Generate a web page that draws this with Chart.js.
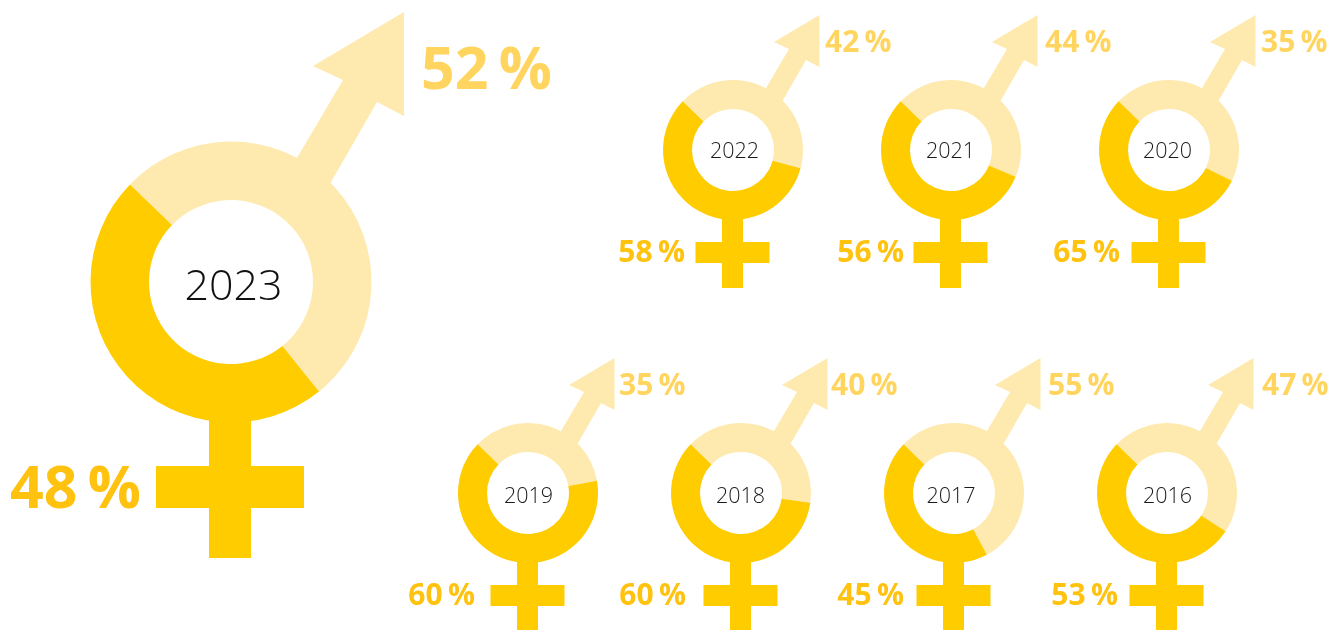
<!DOCTYPE html>
<html><head><meta charset="utf-8">
<script src="https://cdn.jsdelivr.net/npm/chart.js@4"></script>
<style>
html,body{margin:0;padding:0;background:#fff;width:1338px;height:630px;overflow:hidden;font-family:"Open Sans",sans-serif}
canvas{position:absolute}
.t{position:absolute;white-space:nowrap;font-weight:700}
.y{position:absolute;font-weight:300;text-align:center;transform:translate(-50%,-50%)}
</style></head><body>
<script>
// Data
const years       = ["2023","2022","2021","2020","2019","2018","2017","2016"];
const maleArc     = [52,42,44,45,35,40,55,47];
const femaleArc   = [48,58,56,55,65,60,45,53];
const maleLabel   = ["52 %","42 %","44 %","35 %","35 %","40 %","55 %","47 %"];
const femaleLabel = ["48 %","58 %","56 %","65 %","60 %","60 %","45 %","53 %"];

// Layout
const centersX = [231,733,951,1169,528,741,954,1167];
const centersY = [282,150,150,150,493,493,493,493];
const maleLeft = [421,825,1045,1261,619,831,1048,1262];
const femaleRight = [141,685,904,1120,475,686,904,1118];
const yearX    = [233.5,734.5,950.5,1167.5,528.5,740.5,951,1167.5];
const LIGHT="#FEE9AE", DARK="#FFCC00", LIGHT_T="#FFD55F", DARK_T="#FFC20E";

const symbolPlugin={id:"symbols",beforeDatasetsDraw(chart){
  const arc=chart.getDatasetMeta(0).data[0], c=chart.ctx, k=arc.outerRadius>100?2:1;
  const P=(pts,col)=>{c.beginPath();pts.forEach((p,i)=>{const x=arc.x+p[0]*k,y=arc.y+p[1]*k;i?c.lineTo(x,y):c.moveTo(x,y)});c.closePath();c.fillStyle=col;c.fill()};
  P([[33,-62],[56,-101],[41,-108],[86.5,-135],[86.5,-83],[73,-90],[50,-50],[30,-30]],LIGHT);
  P([[-11,60],[10,60],[10,92],[36.5,92],[36.5,113],[10,113],[10,138],[-11,138],[-11,113],[-37.5,113],[-37.5,92],[-11,92]],DARK);
}};

years.forEach((yr,i)=>{
  const big=i===0, R=big?140.5:70, ri=big?82:41, half=big?290:145;
  const cv=document.createElement("canvas");
  cv.width=cv.height=half*2;
  cv.style.left=(centersX[i]-half)+"px"; cv.style.top=(centersY[i]-half)+"px";
  document.body.appendChild(cv);
  new Chart(cv,{type:"doughnut",
    data:{labels:["Men","Women"],datasets:[{data:[maleArc[i],femaleArc[i]],backgroundColor:[LIGHT,DARK],borderWidth:0}]},
    options:{responsive:false,animation:false,rotation:-46,radius:R,cutout:(ri/R*100)+"%",layout:{padding:0},
      plugins:{legend:{display:false},tooltip:{enabled:false}}},
    plugins:[symbolPlugin]});
  const fs=big?59:30, cy=centersY[i], ws=big?-5:-2.5;
  const m=document.createElement("div");m.className="t";m.textContent=maleLabel[i];
  m.style.cssText=`left:${maleLeft[i]}px;top:${cy+(big?-216:-109)-fs/2}px;font-size:${fs}px;line-height:${fs}px;color:${LIGHT_T};word-spacing:${ws}px`;
  document.body.appendChild(m);
  const f=document.createElement("div");f.className="t";f.textContent=femaleLabel[i];
  f.style.cssText=`right:${1338-femaleRight[i]}px;top:${cy+(big?203:101)-fs/2}px;font-size:${fs}px;line-height:${fs}px;color:${DARK_T};word-spacing:${ws}px`;
  document.body.appendChild(f);
  const y=document.createElement("div");y.className="y";y.textContent=yr;
  y.style.cssText=`left:${yearX[i]}px;top:${cy+(big?1:(i>=4?0.5:-1))}px;font-size:${big?43:21.5}px;color:${big?"#111":"#1a1a1a"}`;
  document.body.appendChild(y);
});
</script>
</body></html>
